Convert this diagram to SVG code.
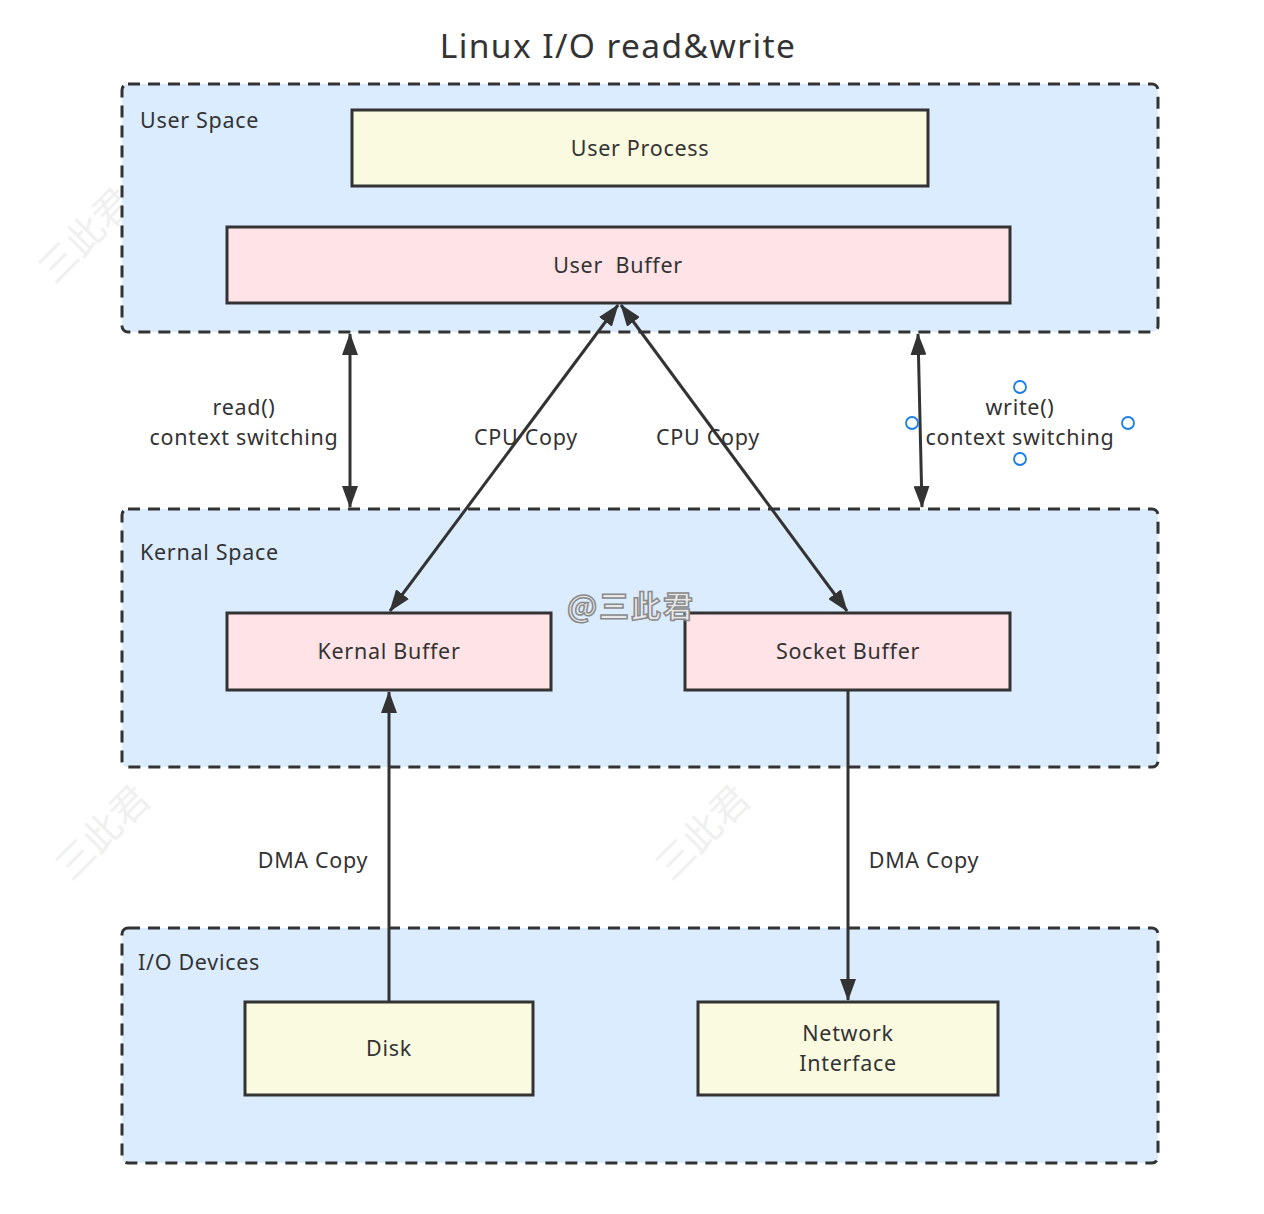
<svg xmlns="http://www.w3.org/2000/svg" width="1264" height="1214" viewBox="0 0 1264 1214">
<defs>
<style>
.t{font-family:"Noto Sans","Liberation Sans",Arial,sans-serif;fill:#333;font-size:21.5px;letter-spacing:0.7px}
.c{text-anchor:middle}
.grp{fill:#dbecff;stroke:#333;stroke-width:3;stroke-dasharray:12 8}
.y{fill:#fafae1;stroke:#333;stroke-width:3}
.p{fill:#ffe3e6;stroke:#333;stroke-width:3}
.ln{stroke:#333;stroke-width:3;fill:none;marker-end:url(#ah)}
.dl{marker-start:url(#ah)}
.wm{font-family:"Noto Sans CJK SC",sans-serif;font-size:38px;fill:#f0f0f0;text-anchor:middle}
.h{fill:#fff;stroke:#1a7fe8;stroke-width:1.8}
</style>
<marker id="ah" viewBox="0 0 22 16" refX="21" refY="8" markerWidth="22" markerHeight="16" markerUnits="userSpaceOnUse" orient="auto-start-reverse">
<path d="M0,0 L22,8 L0,16 z" fill="#333"/>
</marker>
</defs>
<rect width="1264" height="1214" fill="#fff"/>
<g id="watermarks">
<text class="wm" transform="translate(95,245) rotate(-45)">三此君</text>
<text class="wm" transform="translate(112,842) rotate(-45)">三此君</text>
<text class="wm" transform="translate(712,842) rotate(-45)">三此君</text>
</g>
<text class="t c" x="618" y="58" style="font-size:33.5px;letter-spacing:1.4px">Linux I/O read&amp;write</text>
<g id="user-space">
<rect class="grp" x="122" y="84" width="1036" height="248" rx="6"/>
<text class="t" x="140" y="128">User Space</text>
</g>
<g id="kernal-space">
<rect class="grp" x="122" y="509" width="1036" height="258" rx="6"/>
<text class="t" x="140" y="560">Kernal Space</text>
</g>
<g id="io-devices">
<rect class="grp" x="122" y="928" width="1036" height="235" rx="6"/>
<text class="t" x="138" y="970">I/O Devices</text>
</g>
<g id="user-process">
<rect class="y" x="352" y="110" width="576" height="76"/>
<text class="t c" x="640" y="156">User Process</text>
</g>
<g id="user-buffer">
<rect class="p" x="227" y="227" width="783" height="76"/>
<text class="t c" x="618" y="273" xml:space="preserve">User  Buffer</text>
</g>
<g id="kernal-buffer">
<rect class="p" x="227" y="613" width="324" height="77"/>
<text class="t c" x="389" y="659">Kernal Buffer</text>
</g>
<g id="socket-buffer">
<rect class="p" x="685" y="613" width="325" height="77"/>
<text class="t c" x="848" y="659">Socket Buffer</text>
</g>
<g id="disk">
<rect class="y" x="245" y="1002" width="288" height="93"/>
<text class="t c" x="389" y="1056">Disk</text>
</g>
<g id="network-interface">
<rect class="y" x="698" y="1002" width="300" height="93"/>
<text class="t c" x="848" y="1041">Network</text>
<text class="t c" x="848" y="1071">Interface</text>
</g>
<text x="631" y="617" style="font-family:'Noto Sans CJK SC',sans-serif;font-size:30px;letter-spacing:2px;fill:#e8e8e8;stroke:#8a8a8a;stroke-width:1.5;text-anchor:middle;font-weight:bold">@三此君</text>
<g id="connectors">
<line class="ln dl" x1="350" y1="334" x2="350" y2="507"/>
<line class="ln dl" x1="918" y1="334" x2="922" y2="507"/>
<line class="ln dl" x1="618" y1="305" x2="390" y2="611"/>
<line class="ln dl" x1="621" y1="305" x2="847" y2="611"/>
<line class="ln" x1="389" y1="1001" x2="389" y2="692"/>
<line class="ln" x1="848" y1="690" x2="848" y2="1000"/>
</g>
<g id="labels">
<text class="t c" x="244" y="415">read()</text>
<text class="t c" x="244" y="445">context switching</text>
<text class="t c" x="526" y="445">CPU Copy</text>
<text class="t c" x="708" y="445">CPU Copy</text>
<text class="t c" x="1020" y="415">write()</text>
<text class="t c" x="1020" y="445">context switching</text>
<text class="t c" x="313" y="868">DMA Copy</text>
<text class="t c" x="924" y="868">DMA Copy</text>
</g>
<g id="handles">
<circle class="h" cx="1020" cy="387" r="6"/>
<circle class="h" cx="912" cy="423" r="6"/>
<circle class="h" cx="1128" cy="423" r="6"/>
<circle class="h" cx="1020" cy="459" r="6"/>
</g>
</svg>
